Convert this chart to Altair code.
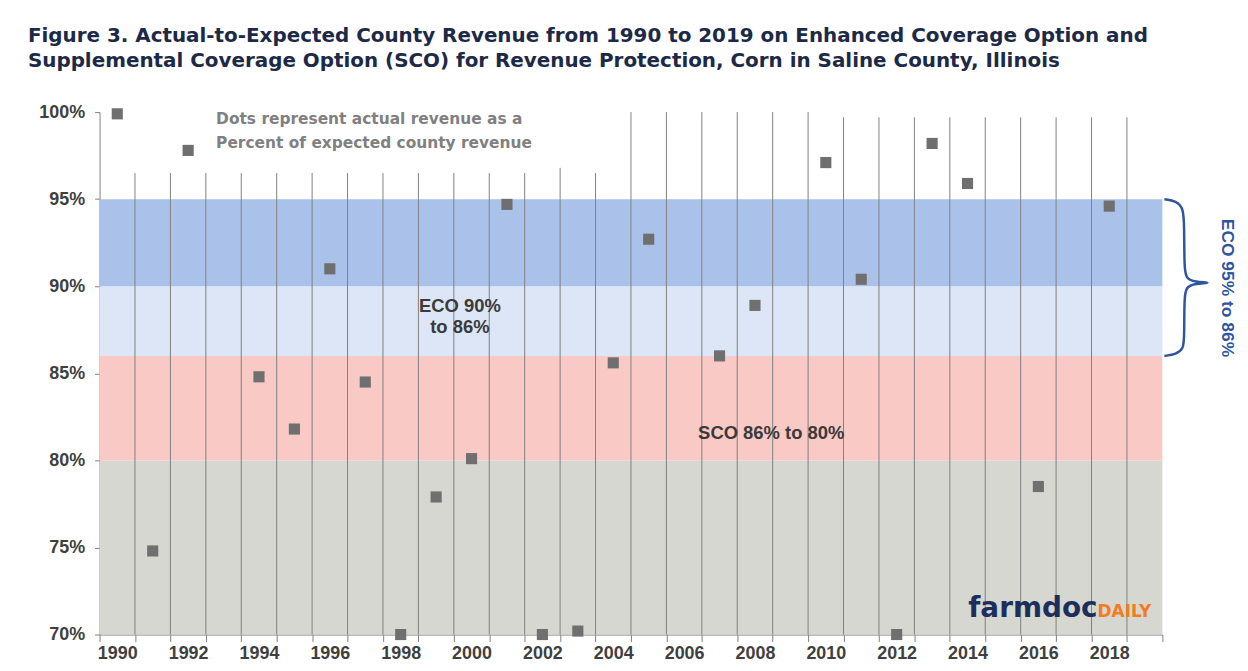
import altair as alt
import pandas as pd

# ---------------- data ----------------
years = list(range(1990, 2020))
ratio = [99.9, 74.8, 97.8, None, 84.8, 81.8, 91.0, 84.5, 70.0, 77.9,
         80.1, 94.7, 70.0, 70.2, 85.6, 92.7, None, 86.0, 88.9, None,
         97.1, 90.4, 70.0, 98.2, 95.9, None, 78.5, None, 94.6, None]

band_names = ["Below 80%", "SCO 86% to 80%", "ECO 90% to 86%", "ECO 95% to 90%"]
band_lo = [70, 80, 86, 90]
band_hi = [80, 86, 90, 95]
band_colors = ["#D6D7D1", "#F8C9C5", "#DCE6F6", "#AAC2E9"]

divider_years = list(range(1991, 2020))
divider_tops = [96.5] * 12 + [96.8, 96.5] + [100.0] * 6 + [99.7] * 9

y_ticks = [70, 75, 80, 85, 90, 95, 100]

brace_x = [0, 12, 19, 20, 20, 22, 30, 50, 30, 22, 20, 20, 19, 12, 0]
brace_y = [95.0, 94.9, 94.5, 93.5, 91.0, 90.45, 90.25, 90.2, 90.15, 89.95,
           89.4, 87.0, 86.4, 86.1, 86.0]

title_lines = [
    "Figure 3. Actual-to-Expected County Revenue from 1990 to 2019 on Enhanced Coverage Option and",
    "Supplemental Coverage Option (SCO) for Revenue Protection, Corn in Saline County, Illinois",
]

# ---------------- tables ----------------
pts = pd.DataFrame({"year": years, "v": ratio}).dropna()
bands = pd.DataFrame({"name": band_names, "lo": band_lo, "hi": band_hi})
divs = pd.DataFrame({"year": divider_years, "top": divider_tops,
                     "bottom": [70] * len(divider_years)})
brace = pd.DataFrame({"i": list(range(len(brace_x))), "bx": brace_x, "by": brace_y})

AX = "Liberation Sans"
ydom = alt.Scale(domain=[70, 100], nice=False, zero=False)

x_axis = alt.Axis(
    title=None, labelAngle=0, tickBand="extent", labelOverlap=False,
    labelExpr="datum.value % 2 == 0 ? datum.value : ''",
    labelFont=AX, labelFontSize=18, labelFontWeight="bold", labelColor="#3F3F3F",
    domainColor="#808080", tickColor="#808080", tickSize=7, labelPadding=3, grid=False,
)
y_axis = alt.Axis(
    title=None, values=y_ticks, labelExpr="datum.value + '%'",
    labelFont=AX, labelFontSize=18, labelFontWeight="bold", labelColor="#3F3F3F",
    domainColor="#808080", tickColor="#808080", tickSize=5, labelPadding=10, grid=False,
)


def X(bp=None):
    kw = dict(scale=alt.Scale(domain=years, paddingInner=0, paddingOuter=0), axis=x_axis)
    if bp is not None:
        kw["bandPosition"] = bp
    return alt.X("year:O", **kw)


def Y(field):
    return alt.Y(field, scale=ydom, axis=y_axis)


band_layer = alt.Chart(bands).mark_rect().encode(
    y=Y("lo:Q"),
    y2="hi",
    color=alt.Color("name:N", scale=alt.Scale(domain=band_names, range=band_colors), legend=None),
)

div_layer = alt.Chart(divs).mark_rule(color="#808080", strokeWidth=1).encode(
    x=X(bp=0),
    y=Y("top:Q"),
    y2="bottom",
)

pt_layer = alt.Chart(pts).mark_square(size=125, color="#6F6F6F", opacity=1).encode(
    x=X(),
    y=Y("v:Q"),
)

note = alt.Chart(pd.DataFrame({"year": [1993], "v": [99.29],
                               "t": ["Dots represent actual revenue as a\nPercent of expected county revenue"]})
                 ).mark_text(align="left", baseline="alphabetic", lineBreak="\n", lineHeight=23.5,
                             font="DejaVu Sans", fontSize=15.5, fontWeight="bold", color="#808080").encode(
    x=X(bp=0.29), y=Y("v:Q"), text="t:N")

eco_lbl = alt.Chart(pd.DataFrame({"year": [2000], "v": [88.51], "t": ["ECO 90%\nto 86%"]})
                    ).mark_text(align="center", baseline="alphabetic", lineBreak="\n", lineHeight=21,
                                font=AX, fontSize=18.5, fontWeight="bold", color="#3A3A3A").encode(
    x=X(bp=0.17), y=Y("v:Q"), text="t:N")

sco_lbl = alt.Chart(pd.DataFrame({"year": [2008], "v": [81.2], "t": ["SCO 86% to 80%"]})
                    ).mark_text(align="center", baseline="alphabetic",
                                font=AX, fontSize=18.5, fontWeight="bold", color="#3A3A3A").encode(
    x=X(bp=0.96), y=Y("v:Q"), text="t:N")

logo1 = alt.Chart(pd.DataFrame({"year": [2018], "v": [71.03], "t": ["farmdoc"]})
                  ).mark_text(align="right", baseline="alphabetic",
                              font="DejaVu Sans", fontSize=28, fontWeight="bold", color="#1C2F5C").encode(
    x=X(bp=0.17), y=Y("v:Q"), text="t:N")
logo2 = alt.Chart(pd.DataFrame({"year": [2018], "v": [71.03], "t": ["DAILY"]})
                  ).mark_text(align="left", baseline="alphabetic",
                              font="DejaVu Sans", fontSize=17, fontWeight="bold", color="#F47B20").encode(
    x=X(bp=0.17), y=Y("v:Q"), text="t:N")

main = alt.layer(band_layer, div_layer, pt_layer, note, eco_lbl, sco_lbl, logo1, logo2)

bx_scale = alt.Scale(domain=[0, 50], range=[1070, 1120])
brace_line = alt.Chart(brace).mark_line(interpolate="basis", color="#2E55A0", strokeWidth=2.5).encode(
    x=alt.X("bx:Q", scale=bx_scale, axis=None),
    y=Y("by:Q"),
    order="i:O",
)
brace_txt = alt.Chart(pd.DataFrame({"bx": [63], "by": [89.9], "t": ["ECO 95% to 86%"]})
                      ).mark_text(angle=90, align="center", baseline="middle",
                                  font=AX, fontSize=17.5, fontWeight="bold", color="#2E55A0").encode(
    x=alt.X("bx:Q", scale=bx_scale, axis=None),
    y=Y("by:Q"),
    text="t:N",
)
side = alt.layer(brace_line, brace_txt)

chart = alt.layer(main, side).resolve_scale(x="independent").properties(
    width=1068, height=525,
    autosize=alt.AutoSizeParams(type="none"),
    padding={"left": 92, "top": 103, "right": 78, "bottom": 26},
    background="white",
    title=alt.TitleParams(
        text=title_lines, anchor="start", frame="group", dx=-72, offset=32,
        font="DejaVu Sans", fontSize=20, fontWeight="bold", color="#1C2947", lineHeight=25,
    ),
).configure_view(stroke=None)

chart.save("out.html", embed_options={"renderer": "svg", "actions": False})
